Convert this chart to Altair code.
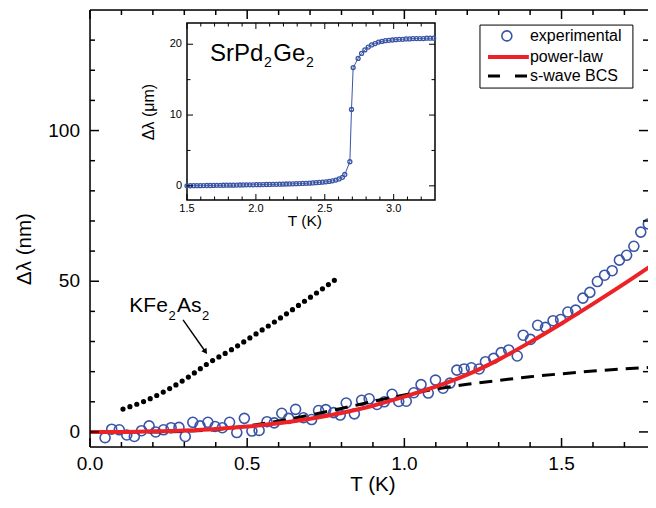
import altair as alt
import pandas as pd

FONT = "Liberation Sans"
BLUE = "#3a55a6"
RED = "#ec2227"

# ---------------- data ----------------
exp_T = [0.048, 0.069, 0.093, 0.117, 0.141, 0.164, 0.188, 0.209, 0.234, 0.258, 0.283, 0.303,
         0.327, 0.350, 0.375, 0.398, 0.421, 0.444, 0.467,
         0.491, 0.515, 0.538, 0.563, 0.586, 0.610,
         0.632, 0.654, 0.679, 0.705, 0.727, 0.750, 0.775, 0.796,
         0.815, 0.841, 0.864, 0.888, 0.913, 0.936, 0.961, 0.982,
         1.006, 1.030, 1.053, 1.076, 1.099, 1.123, 1.145,
         1.167, 1.190, 1.213, 1.238, 1.258, 1.284, 1.308, 1.332, 1.359,
         1.378, 1.401, 1.424, 1.449, 1.473, 1.497, 1.520, 1.545,
         1.568, 1.590, 1.614, 1.637, 1.661, 1.684, 1.707, 1.730, 1.752, 1.776, 1.799]
exp_dl = [-1.9, 0.9, 0.7, -1.0, -1.5, 0.4, 2.0, 0.0, 0.7, 1.4, 1.5, -1.5,
          3.2, 2.0, 3.2, 1.8, 1.4, 3.2, -0.2,
          4.5, 0.3, 0.5, 3.4, 3.0, 6.2,
          4.5, 7.5, 4.7, 4.1, 7.1, 7.4, 6.4, 5.6,
          9.6, 6.0, 10.5, 11.0, 9.1, 10.0, 12.5, 10.1,
          10.2, 13.0, 15.7, 12.9, 17.2, 14.5, 16.2,
          20.5, 20.9, 21.3, 20.9, 23.3, 24.4, 26.3, 27.2, 25.2,
          32.1, 30.7, 35.4, 34.7, 36.9, 37.3, 39.8, 40.4,
          44.4, 46.3, 49.9, 52.0, 53.5, 57.0, 58.6, 61.6, 66.3, 69.0, 73.3]

pl_T = [0.0, 0.1, 0.2, 0.3, 0.4, 0.5, 0.6, 0.7, 0.8, 0.9, 1.0, 1.1, 1.2, 1.3, 1.4, 1.5, 1.6, 1.7, 1.8]
pl_dl = [0.0, 0.0, 0.2, 0.5, 1.0, 1.8, 2.9, 4.4, 6.3, 8.7, 11.7, 15.0, 19.0, 24.0, 29.8, 36.0, 42.5, 49.2, 56.2]

bcs_T = [0.05, 0.1, 0.2, 0.3, 0.4, 0.5, 0.6, 0.7, 0.8, 0.9, 1.0, 1.1, 1.2, 1.3, 1.4, 1.5, 1.6, 1.7, 1.8]
bcs_dl = [0.0, 0.0, 0.0, 0.2, 0.8, 2.0, 3.6, 5.6, 7.8, 10.1, 12.3, 14.2, 15.8, 17.1, 18.3, 19.3, 20.2, 20.9, 21.5]

kfe_T = [0.105, 0.18, 0.245, 0.31, 0.372, 0.45, 0.541, 0.60, 0.669, 0.73, 0.796]
kfe_dl = [7.6, 10.5, 13.9, 18.0, 22.5, 27.3, 33.4, 37.4, 42.4, 46.8, 51.7]

inset_T = [1.500, 1.524, 1.548, 1.572, 1.596, 1.620, 1.644, 1.668, 1.692, 1.716,
           1.740, 1.764, 1.788, 1.812, 1.836, 1.860, 1.884, 1.908, 1.932, 1.956,
           1.980, 2.004, 2.028, 2.052, 2.076, 2.100, 2.124, 2.148, 2.172, 2.196,
           2.220, 2.244, 2.268, 2.292, 2.316, 2.340, 2.364, 2.388, 2.412, 2.436,
           2.460, 2.484, 2.508, 2.532, 2.556, 2.580, 2.604, 2.628, 2.645, 2.682,
           2.694, 2.706, 2.742, 2.767, 2.791, 2.815, 2.840, 2.865, 2.890, 2.915,
           2.940, 2.965, 2.990, 3.015, 3.040, 3.065, 3.090, 3.115, 3.140, 3.165,
           3.190, 3.215, 3.240, 3.265, 3.290]
inset_dl = [0.00, 0.01, 0.02, 0.03, 0.03, 0.04, 0.05, 0.05, 0.06, 0.07,
            0.07, 0.08, 0.09, 0.10, 0.10, 0.11, 0.12, 0.13, 0.14, 0.14,
            0.15, 0.16, 0.17, 0.18, 0.19, 0.20, 0.21, 0.22, 0.23, 0.24,
            0.26, 0.27, 0.29, 0.30, 0.32, 0.34, 0.36, 0.38, 0.41, 0.44,
            0.48, 0.52, 0.57, 0.63, 0.71, 0.82, 0.97, 1.20, 1.60, 3.40,
            10.8, 16.7, 18.0, 18.7, 19.2, 19.6, 19.9, 20.1, 20.3, 20.4,
            20.5, 20.55, 20.6, 20.65, 20.7, 20.7, 20.75, 20.75, 20.8, 20.8,
            20.8, 20.8, 20.85, 20.85, 20.85]

# tick values and tick labels
main_x_major = [0.0, 0.5, 1.0, 1.5]
main_x_labels = ["0.0", "0.5", "1.0", "1.5"]
main_x_minor = [0.1, 0.2, 0.3, 0.4, 0.6, 0.7, 0.8, 0.9, 1.1, 1.2, 1.3, 1.4, 1.6, 1.7]
main_y_major = [0, 50, 100]
main_y_labels = ["0", "50", "100"]
main_y_minor = [10, 20, 30, 40, 60, 70, 80, 90, 110, 120, 130]
inset_x_major = [1.5, 2.0, 2.5, 3.0]
inset_x_labels = ["1.5", "2.0", "2.5", "3.0"]
inset_x_minor = [1.6, 1.7, 1.8, 1.9, 2.1, 2.2, 2.3, 2.4, 2.6, 2.7, 2.8, 2.9, 3.1, 3.2]
inset_y_major = [0, 10, 20]
inset_y_labels = ["0", "10", "20"]
inset_y_minor = [5, 15]

# annotation / legend / title anchors (data units)
kfe_label = [("KFe", 0.125, 39.8, 21), ("2", 0.2497, 37.2, 13), ("As", 0.2767, 39.8, 21), ("2", 0.3562, 37.2, 13)]
arrow_start = (0.296, 37.2)
arrow_end = (0.3656, 26.85)
sr_label = [("SrPd", 1.667, 17.67, 24), ("2", 2.0589, 16.82, 14), ("Ge", 2.126, 17.67, 24), ("2", 2.3637, 16.82, 14)]
legend_box = (1.2405, 1.727, 135.0, 114.1)
legend_rows = [("experimental", 131.4), ("power-law", 124.4), ("s-wave BCS", 118.1)]
legend_sym_x = (1.266, 1.396, 1.326)
legend_text_x = 1.3995
main_xtitle = ("T (K)", 0.900, -5)
main_ytitle = ("Δλ (nm)", -0.1877, 60.7)
inset_xtitle = ("T (K)", 2.355, -2)
inset_ytitle = ("Δλ (μm)", 1.2605, 10.42)

# ---------------- scales ----------------
X_DOMAIN = [0, 1.775]     # the figure is cut at the right edge, as in the reference
Y_DOMAIN = [-5, 140]
W, H = 558, 437
XS = alt.Scale(domain=X_DOMAIN, nice=False, zero=False)
YS = alt.Scale(domain=Y_DOMAIN, nice=False, zero=False)
IXS = alt.Scale(domain=[1.5, 3.3], range=[97, 345], nice=False, zero=False)
IYS = alt.Scale(domain=[-2, 23], range=[190, 13], nice=False, zero=False)


def enc(ch, xs, ys, xf="x", yf="y"):
    return ch.encode(x=alt.X(f"{xf}:Q", scale=xs, axis=None), y=alt.Y(f"{yf}:Q", scale=ys, axis=None))


def ticks(values, side, xs, ys, edge, length, thick):
    df = pd.DataFrame({"v": values, "e": [edge] * len(values)})
    if side in ("left", "right"):
        off = length / 2 if side == "left" else -length / 2
        return alt.Chart(df).mark_tick(orient="horizontal", size=length, thickness=thick,
                                       xOffset=off, color="black", opacity=1).encode(
            x=alt.X("e:Q", scale=xs, axis=None), y=alt.Y("v:Q", scale=ys, axis=None))
    off = length / 2 if side == "top" else -length / 2
    return alt.Chart(df).mark_tick(orient="vertical", size=length, thickness=thick,
                                   yOffset=off, color="black", opacity=1).encode(
        x=alt.X("v:Q", scale=xs, axis=None), y=alt.Y("e:Q", scale=ys, axis=None))


def texts(xv, yv, sv, xs, ys, fs, align="left", baseline="alphabetic", dx=0, dy=0, angle=0):
    df = pd.DataFrame({"x": xv, "y": yv, "s": sv})
    mk = alt.Chart(df).mark_text(font=FONT, fontSize=fs, align=align, baseline=baseline,
                                 dx=dx, dy=dy, angle=angle, color="black")
    return mk.encode(x=alt.X("x:Q", scale=xs, axis=None), y=alt.Y("y:Q", scale=ys, axis=None),
                     text="s:N")


def label(chunks, xs, ys):
    return [texts([x], [y], [s], xs, ys, fs) for s, x, y, fs in chunks]


def rule(x, x2, y, y2, xs, ys, **kw):
    df = pd.DataFrame({"x": [x], "x2": [x2], "y": [y], "y2": [y2]})
    return alt.Chart(df).mark_rule(**kw).encode(
        x=alt.X("x:Q", scale=xs, axis=None), x2="x2:Q",
        y=alt.Y("y:Q", scale=ys, axis=None), y2="y2:Q")


# ---------------- main panel ----------------
exp_df = pd.DataFrame({"x": exp_T, "y": exp_dl})
pts = enc(alt.Chart(exp_df).mark_point(shape="circle", filled=False, size=100, strokeWidth=1.6,
                                       color=BLUE, opacity=1), XS, YS)
bcs = enc(alt.Chart(pd.DataFrame({"x": bcs_T, "y": bcs_dl})).mark_line(
    color="black", strokeWidth=3, strokeDash=[13, 8], interpolate="monotone"), XS, YS)
pl = enc(alt.Chart(pd.DataFrame({"x": pl_T, "y": pl_dl})).mark_line(
    color=RED, strokeWidth=4, interpolate="monotone"), XS, YS)
kfe = enc(alt.Chart(pd.DataFrame({"x": kfe_T, "y": kfe_dl})).mark_line(
    color="black", strokeWidth=5.2, strokeDash=[0, 7.3], strokeCap="round",
    interpolate="monotone"), XS, YS)

arrow = rule(arrow_start[0], arrow_end[0], arrow_start[1], arrow_end[1], XS, YS,
             color="black", strokeWidth=1.4)
head = enc(alt.Chart(pd.DataFrame({"x": [arrow_end[0]], "y": [arrow_end[1]]})).mark_point(
    shape="triangle", filled=True, size=40, angle=145, color="black", opacity=1), XS, YS)

XMAX = X_DOMAIN[1]
frame = [rule(0.0, XMAX, 140, 140, XS, YS, color="black", strokeWidth=1.5),
         rule(0.0, XMAX, -5, -5, XS, YS, color="black", strokeWidth=1.5),
         rule(0.0, 0.0, -5, 140, XS, YS, color="black", strokeWidth=1.5)]

# legend
lb = pd.DataFrame({"x": [legend_box[0]], "x2": [legend_box[1]],
                   "y": [legend_box[2]], "y2": [legend_box[3]]})
leg_box = alt.Chart(lb).mark_rect(fill="white", stroke="black", strokeWidth=1).encode(
    x=alt.X("x:Q", scale=XS, axis=None), x2="x2:Q",
    y=alt.Y("y:Q", scale=YS, axis=None), y2="y2:Q")
leg_pt = enc(alt.Chart(pd.DataFrame({"x": [legend_sym_x[2]], "y": [legend_rows[0][1]]})).mark_point(
    shape="circle", filled=False, size=100, strokeWidth=1.6, color=BLUE, opacity=1), XS, YS)
leg_red = rule(legend_sym_x[0], legend_sym_x[1], legend_rows[1][1], legend_rows[1][1], XS, YS,
               color=RED, strokeWidth=4)
leg_dash = rule(legend_sym_x[0], legend_sym_x[1], legend_rows[2][1], legend_rows[2][1], XS, YS,
                color="black", strokeWidth=3, strokeDash=[12, 15])
leg_txt = texts([legend_text_x] * 3, [r[1] for r in legend_rows], [r[0] for r in legend_rows],
                XS, YS, 16, align="left", baseline="middle")

# tick labels and titles
main_text = [
    texts(main_x_major, [-5] * 4, main_x_labels, XS, YS, 19, align="center", dy=23),
    texts([0.0] * 3, main_y_major, main_y_labels, XS, YS, 19, align="right", baseline="middle", dx=-10),
    texts([main_xtitle[1]], [main_xtitle[2]], [main_xtitle[0]], XS, YS, 20.5, align="center", dy=44),
    texts([main_ytitle[1]], [main_ytitle[2]], [main_ytitle[0]], XS, YS, 20.5, align="center", angle=270),
]

main_layers = [pts, bcs, pl, kfe, arrow, head] + frame + [
    ticks(main_y_major, "left", XS, YS, 0.0, 9, 1.5),
    ticks(main_y_minor, "left", XS, YS, 0.0, 5, 1.5),
    ticks(main_y_major, "right", XS, YS, XMAX, 9, 1.5),
    ticks(main_y_minor, "right", XS, YS, XMAX, 5, 1.5),
    ticks(main_x_major, "bottom", XS, YS, -5, 9, 1.5),
    ticks(main_x_minor, "bottom", XS, YS, -5, 5, 1.5),
    ticks(main_x_major, "top", XS, YS, 140, 9, 1.5),
    ticks(main_x_minor, "top", XS, YS, 140, 5, 1.5),
    leg_box, leg_pt, leg_red, leg_dash, leg_txt] + main_text + label(kfe_label, XS, YS)
main = alt.layer(*main_layers)

# ---------------- inset ----------------
ib = pd.DataFrame({"x": [1.5], "x2": [3.3], "y": [-2.0], "y2": [23.0]})
inset_bg = alt.Chart(ib).mark_rect(fill="white", stroke="black", strokeWidth=1.5).encode(
    x=alt.X("x:Q", scale=IXS, axis=None), x2="x2:Q",
    y=alt.Y("y:Q", scale=IYS, axis=None), y2="y2:Q")
ins_df = pd.DataFrame({"x": inset_T, "y": inset_dl})
ins_line = enc(alt.Chart(ins_df).mark_line(color=BLUE, strokeWidth=1), IXS, IYS)
ins_pts = enc(alt.Chart(ins_df).mark_point(shape="circle", filled=False, size=16, strokeWidth=1.3,
                                           color=BLUE, opacity=1), IXS, IYS)
inset_text = [
    texts(inset_x_major, [-2] * 4, inset_x_labels, IXS, IYS, 11, align="center", dy=12),
    texts([1.5] * 3, inset_y_major, inset_y_labels, IXS, IYS, 11, align="right", baseline="middle", dx=-5),
    texts([inset_xtitle[1]], [inset_xtitle[2]], [inset_xtitle[0]], IXS, IYS, 15.5, align="center", dy=26),
    texts([inset_ytitle[1]], [inset_ytitle[2]], [inset_ytitle[0]], IXS, IYS, 16, align="center", angle=270),
]

inset_layers = [inset_bg, ins_line, ins_pts,
                ticks(inset_y_major, "left", IXS, IYS, 1.5, 6, 1),
                ticks(inset_y_minor, "left", IXS, IYS, 1.5, 3.5, 1),
                ticks(inset_y_major, "right", IXS, IYS, 3.3, 6, 1),
                ticks(inset_y_minor, "right", IXS, IYS, 3.3, 3.5, 1),
                ticks(inset_x_major, "bottom", IXS, IYS, -2, 6, 1),
                ticks(inset_x_minor, "bottom", IXS, IYS, -2, 3.5, 1),
                ticks(inset_x_major, "top", IXS, IYS, 23, 6, 1),
                ticks(inset_x_minor, "top", IXS, IYS, 23, 3.5, 1)] + inset_text + label(sr_label, IXS, IYS)
inset = alt.layer(*inset_layers)

chart = alt.layer(main, inset).resolve_scale(x="independent", y="independent").properties(
    width=W, height=H,
    padding={"left": 82, "top": 2, "right": 0, "bottom": 49},
    autosize=alt.AutoSizeParams(type="none"),
    background="white",
).configure_view(strokeWidth=0).configure(font=FONT)

chart.save("out.html", embed_options={"renderer": "svg", "actions": False})
